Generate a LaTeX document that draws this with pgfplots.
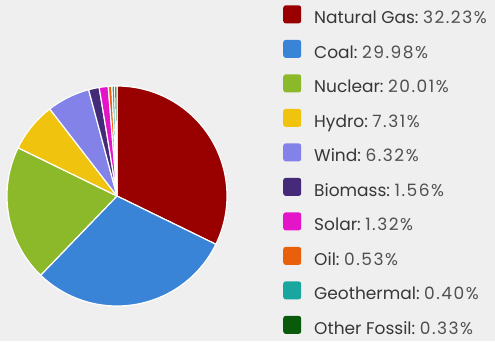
\documentclass[border=0pt]{standalone}
\usepackage{pgfplots}
\pgfplotsset{compat=1.18}
\usepackage{fontspec}
\setmainfont{Poppins}
\definecolor{bg}{RGB}{239,239,239}
\definecolor{txt}{RGB}{55,55,55}
\definecolor{num}{RGB}{80,80,80}
\definecolor{cgas}{RGB}{153,0,0}
\definecolor{ccoal}{RGB}{58,132,216}
\definecolor{cnuc}{RGB}{139,185,42}
\definecolor{chyd}{RGB}{240,195,15}
\definecolor{cwind}{RGB}{130,130,232}
\definecolor{cbio}{RGB}{68,42,120}
\definecolor{csol}{RGB}{228,20,200}
\definecolor{coil}{RGB}{232,96,12}
\definecolor{cgeo}{RGB}{24,166,158}
\definecolor{cfos}{RGB}{10,90,12}
\def\cum{0}
\newcommand\slice[3]{%
  \pgfmathsetmacro\sa{90-3.6*\cum}%
  \pgfmathsetmacro\sb{90-3.6*(\cum+#1)}%
  \edef\doit{\noexpand\addplot[fill=#2, draw=white, line width=1.2pt, line join=round, domain=\sb:\sa, samples=90] ({cos(x)},{sin(x)}) -- (axis cs:0,0) -- cycle;}\doit
  \addlegendentry{#3:\ {\color{num}\addfontfeature{LetterSpace=9}#1\%}}%
  \pgfmathsetmacro\newcum{\cum+#1}\xdef\cum{\newcum}}
\begin{document}
\begin{tikzpicture}
\useasboundingbox (0,0) rectangle (495pt,341pt);
\clip (0,0) rectangle (495pt,341pt);
\fill[bg] (0,0) rectangle (495pt,341pt);
\begin{axis}[
  at={(117pt,145pt)}, anchor=origin,
  x=110pt, y=110pt,
  xmin=-1, xmax=1, ymin=-1, ymax=1,
  hide axis, clip=false,
  legend cell align=left,
  legend image code/.code={\fill[#1, draw=none, rounded corners=2.5pt] (0pt,-3.5pt) rectangle (18pt,14.5pt);},
  legend style={at={(axis cs:1.482,1.753)}, anchor=north west, draw=none, fill=none,
    font=\fontsize{17}{20}\selectfont, text=txt,
    nodes={inner sep=0pt, text height=12pt, text depth=4pt},
    row sep=12pt,
    /tikz/every odd column/.append style={column sep=13pt}},
]
\slice{32.23}{cgas}{Natural Gas}
\slice{29.98}{ccoal}{Coal}
\slice{20.01}{cnuc}{Nuclear}
\slice{7.31}{chyd}{Hydro}
\slice{6.32}{cwind}{Wind}
\slice{1.56}{cbio}{Biomass}
\slice{1.32}{csol}{Solar}
\slice{0.53}{coil}{Oil}
\slice{0.40}{cgeo}{Geothermal}
\slice{0.33}{cfos}{Other Fossil}
\end{axis}
\end{tikzpicture}
\end{document}
